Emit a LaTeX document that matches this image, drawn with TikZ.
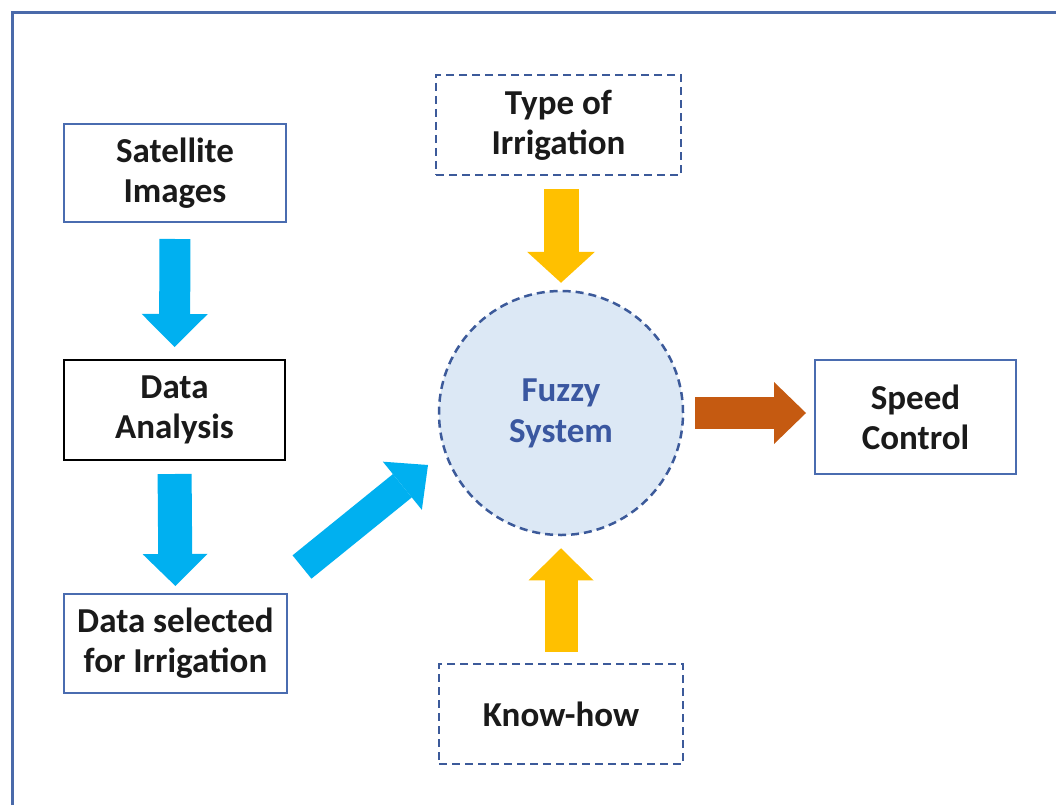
\documentclass[tikz,border=0pt]{standalone}
\usepackage{fontspec}
\setmainfont{Carlito}
\usetikzlibrary{arrows.meta,calc}
\definecolor{frameblue}{HTML}{4A6AAA}
\definecolor{boxblue}{HTML}{4A6CB0}
\definecolor{dashblue}{HTML}{3C5A9A}
\definecolor{arrblue}{HTML}{00B0F0}
\definecolor{arryellow}{HTML}{FFC000}
\definecolor{arrorange}{HTML}{C55A11}
\definecolor{circfill}{HTML}{DCE8F5}
\definecolor{fuzzytext}{HTML}{3A57A0}
\definecolor{txt}{HTML}{1A1A1A}
\tikzset{
  boxnode/.style={draw=boxblue, line width=2pt, fill=white, inner sep=0pt, align=center,
    text=txt, font=\fontsize{35}{40}\selectfont\bfseries},
  dashnode/.style={boxnode, draw=dashblue, line width=2.5pt, dash pattern=on 8pt off 5pt},
  fat/.style n args={3}{line width=#1, -{Triangle[length=#2, width=#3, line width=0pt]}},
}
\begin{document}
\begin{tikzpicture}[x=1pt,y=-1pt]
\useasboundingbox (0,0) rectangle (1056,805);
\fill[white] (0,0) rectangle (1056,805);
% frame
\draw[frameblue, line width=3pt] (12,805) -- (12,13) -- (1056,13);

% nodes
\node[boxnode, minimum width=222pt, minimum height=98pt] (sat) at (175,173) {Satellite\\Images};
\node[boxnode, draw=black, minimum width=221pt, minimum height=100pt] (da) at (174.5,410) {Data\\Analysis};
\node[boxnode, minimum width=223pt, minimum height=99pt] (dsel) at (175.5,643.5) {Data selected\\for Irrigation};
\node[dashnode, minimum width=245pt, minimum height=100pt] (type) at (558.5,125) {Type of\\Irrigation};
\node[dashnode, minimum width=244pt, minimum height=100pt] (know) at (561,714) {Know-how};
\node[boxnode, minimum width=201pt, minimum height=114pt] (speed) at (915.5,417) {Speed\\Control};
\node[circle, draw=dashblue, line width=2.5pt, dash pattern=on 8pt off 5pt, fill=circfill,
      minimum size=244pt, inner sep=0pt, align=center, text=fuzzytext,
      font=\fontsize{35}{41}\selectfont\bfseries] (fuzzy) at (561,413) {Fuzzy\\System};

% arrows
\draw[fat={31pt}{33pt}{66pt}, draw=arrblue, fill=arrblue, shorten <=16pt, shorten >=12pt]
  (sat.south) -- (da.north);
\draw[fat={34pt}{32pt}{65pt}, draw=arrblue, fill=arrblue, shorten <=13pt, shorten >=7pt]
  (da.south) -- (dsel.north);
\coordinate (dtail) at (302,567);
\coordinate (dtip) at (428,465);
\draw[fat={30pt}{33pt}{62pt}, draw=arrblue, fill=arrblue] (dtail) -- (dtip);
\draw[fat={35pt}{31pt}{68pt}, draw=arryellow, fill=arryellow, shorten <=13pt, shorten >=7pt]
  (fuzzy.north |- type.south) -- (fuzzy.north);
\draw[fat={33pt}{32pt}{65pt}, draw=arryellow, fill=arryellow, shorten <=11pt, shorten >=12pt]
  (fuzzy.south |- know.north) -- (fuzzy.south);
\draw[fat={32pt}{32pt}{62pt}, draw=arrorange, fill=arrorange, shorten <=11pt, shorten >=8pt]
  (fuzzy.east) -- (speed.west |- fuzzy.east);
\end{tikzpicture}
\end{document}
